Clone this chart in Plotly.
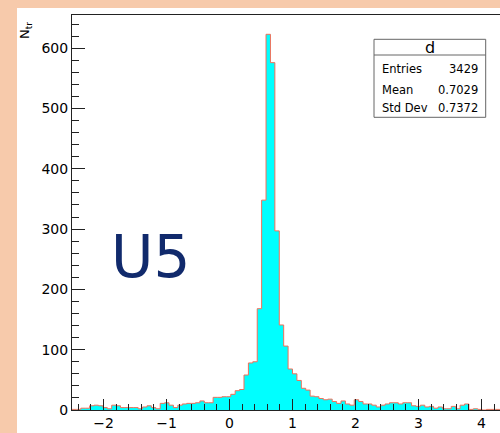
import numpy as np
import plotly.graph_objects as go

# гистограмма d: 100 бинов на [-2.5, 4.5]
x_lo, x_hi, n_bins = -2.5, 4.5, 100
counts = [1, 1, 3, 3, 7, 8, 7, 4, 2, 8,
          7, 4, 4, 4, 4, 2, 5, 7, 4, 2,
          11, 12, 8, 4, 8, 10, 11, 11, 12, 15,
          12, 12, 21, 21, 22, 22, 26, 32, 34, 58,
          78, 80, 168, 348, 623, 576, 297, 141, 106, 68,
          60, 49, 36, 33, 23, 22, 19, 17, 18, 14,
          11, 15, 10, 8, 17, 14, 10, 10, 8, 5,
          8, 10, 12, 12, 10, 12, 12, 7, 6, 8,
          5, 6, 3, 5, 2, 2, 6, 2, 8, 10,
          1, 2, 1, 0, 1, 1, 1, 0, 1, 0]
stats_names = ["Entries", "Mean", "Std Dev"]
stats_values = ["3429", "0.7029", "0.7372"]
hist_name = "d"
label = "U5"

edges = np.linspace(x_lo, x_hi, n_bins + 1)
y_step = counts + [counts[-1]]

# геометрия в пикселях (окно 500x433)
L, R, T, B = 72, 0, 15, 23
W, H = 500, 433
pw, ph = W - L - R, H - T - B


def px(x):
    return (x - L) / pw


def py(y):
    return (H - B - y) / ph


fig = go.Figure()

fig.add_trace(go.Scatter(
    x=edges, y=y_step,
    mode="lines",
    line=dict(shape="hv", color="#f0705a", width=1),
    fill="tozeroy",
    fillcolor="#00ffff",
    hoverinfo="skip",
    showlegend=False,
))

tick_font = dict(family="DejaVu Sans", size=14, color="black")

fig.update_xaxes(
    range=[-2.5, -2.5 + pw / 63.0],
    showline=True, linecolor="#222", linewidth=1, mirror=True,
    ticks="inside", ticklen=11, tickcolor="#222", dtick=1, tick0=0,
    minor=dict(ticks="inside", ticklen=6, dtick=0.2, tick0=0, tickcolor="#222"),
    showgrid=False, zeroline=False,
    tickfont=tick_font,
)
fig.update_yaxes(
    range=[0, 655],
    showline=True, linecolor="#222", linewidth=1,
    ticks="inside", ticklen=13, tickcolor="#222", dtick=100,
    minor=dict(ticks="inside", ticklen=7, dtick=20, tickcolor="#222"),
    showgrid=False, zeroline=False,
    tickfont=tick_font,
)

# белая подложка и статбокс
shapes = [
    dict(type="rect", xref="paper", yref="paper", layer="below",
         x0=px(17), x1=px(520), y0=py(440), y1=py(8),
         fillcolor="white", line=dict(width=0)),
    dict(type="rect", xref="paper", yref="paper",
         x0=px(374), x1=px(485.7), y0=py(117.3), y1=py(39.3),
         fillcolor="white", line=dict(color="#666", width=1)),
    dict(type="line", xref="paper", yref="paper",
         x0=px(374), x1=px(485.7), y0=py(55), y1=py(55),
         line=dict(color="#666", width=1)),
]

annotations = [
    dict(x=px(430), y=py(47), text=hist_name,
         font=dict(family="DejaVu Sans", size=16, color="black")),
    dict(x=px(25), y=py(31), text="N<sub>tr</sub>", textangle=-90,
         font=dict(family="DejaVu Sans", size=13, color="black")),
    dict(x=px(150), y=py(257), text=label,
         font=dict(family="DejaVu Sans", size=58, color="#112a6c")),
]
row_y = [69.3, 90, 108]
for name, val, yy in zip(stats_names, stats_values, row_y):
    annotations.append(dict(x=px(380), y=py(yy), text=name, xanchor="left",
                            font=dict(family="DejaVu Sans", size=11.5, color="black")))
    annotations.append(dict(x=px(480), y=py(yy), text=val, xanchor="right",
                            font=dict(family="DejaVu Sans", size=11.5, color="black")))

for a in annotations:
    a.setdefault("xref", "paper")
    a.setdefault("yref", "paper")
    a.setdefault("xanchor", "center")
    a["yanchor"] = "middle"
    a["showarrow"] = False

fig.update_layout(
    width=W, height=H,
    margin=dict(l=L, r=R, t=T, b=B, pad=0),
    paper_bgcolor="#f7caab",
    plot_bgcolor="white",
    shapes=shapes,
    annotations=annotations,
)

# убрать отступ body, чтобы график лёг в окно 500x433
fig.write_html("out.html", config={"displayModeBar": False},
               post_script="document.body.style.margin='0';")
